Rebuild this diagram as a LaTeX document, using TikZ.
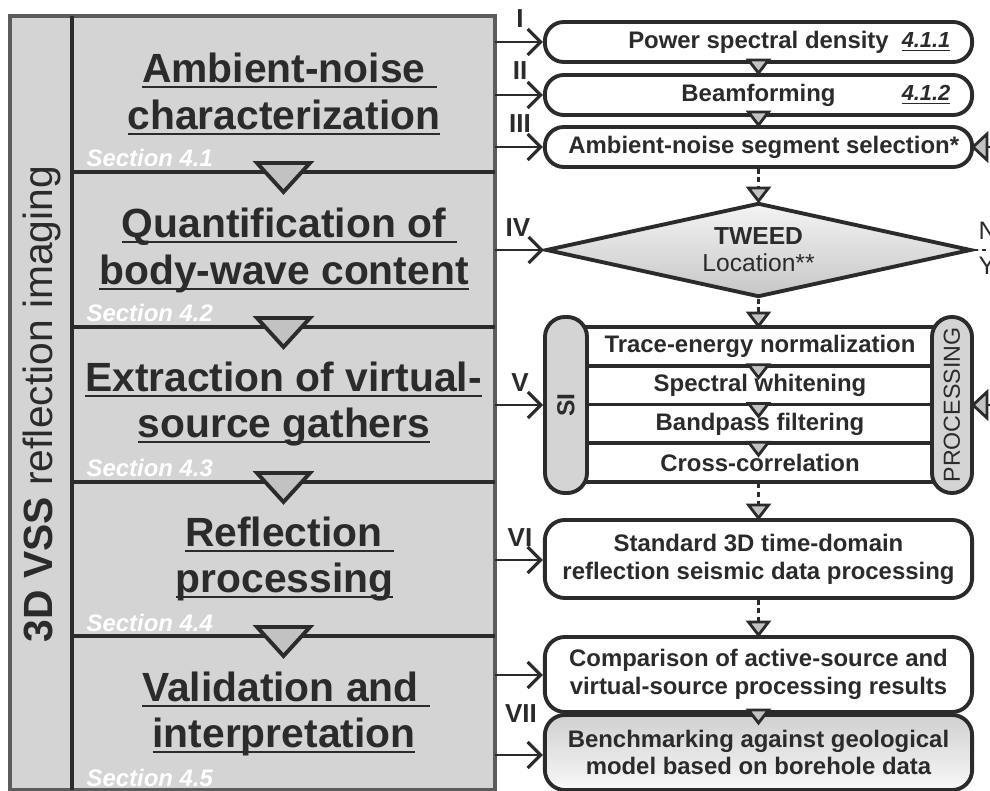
\documentclass[tikz,border=0pt]{standalone}
\usepackage{fontspec}
\setmainfont{Liberation Sans}
\usetikzlibrary{arrows.meta,shapes.geometric,calc,shadings}
\definecolor{dk}{HTML}{2B2B2B}
\definecolor{panelgray}{HTML}{D4D4D4}
\definecolor{pborder}{HTML}{5C5C5C}
\definecolor{trigray}{HTML}{C2C2C2}
\definecolor{dtop}{HTML}{F4F4F4}
\definecolor{dbot}{HTML}{C6C6C6}
\definecolor{btop}{HTML}{D0D0D0}
\definecolor{bbot}{HTML}{F8F8F8}
\newsavebox\ulbox
\newcommand\myul[1]{\sbox\ulbox{#1}\rlap{\rule[-0.13em]{\wd\ulbox}{0.055em}}\usebox\ulbox}
\begin{document}
\begin{tikzpicture}[x=0.01cm,y=-0.01cm,
  panelbox/.style={draw=pborder,fill=panelgray,line width=1.2pt,minimum width=48.5mm,minimum height=77.4mm,inner sep=0},
  sepline/.style={draw=dk,line width=1.1pt},
  ttl/.style={text=dk,font=\fontsize{11.6}{13.4}\selectfont\bfseries,inner sep=0,anchor=base},
  secl/.style={text=white,font=\fontsize{6.8}{8}\selectfont\bfseries\itshape,inner sep=0,anchor=base west},
  vtext/.style={text=dk,font=\fontsize{11.6}{13.4}\selectfont,rotate=90,inner sep=0},
  stepbox/.style={draw=dk,fill=white,line width=1.1pt,rounded corners=1.9mm,minimum width=42.7mm,inner sep=0,align=center,text=dk,font=\fontsize{6.8}{7.9}\selectfont\bfseries},
  rowbox/.style={draw=dk,fill=white,line width=1.1pt,minimum width=36mm,minimum height=3.875mm,inner sep=0,text=dk,font=\fontsize{6.8}{7.9}\selectfont\bfseries},
  pillbox/.style={draw=dk,fill=panelgray,line width=1.1pt,rounded corners=2mm,minimum height=17.6mm,inner sep=0},
  dmd/.style={diamond,aspect=4.52,draw=dk,line width=1.1pt,minimum width=42.5mm,minimum height=9.4mm,inner sep=0,align=center,text=dk,font=\fontsize{7}{7.7}\selectfont,top color=dtop,bottom color=dbot},
  lbl/.style={text=dk,font=\fontsize{7.4}{8}\selectfont\bfseries,inner sep=0,anchor=base},
  refl/.style={text=dk,font=\fontsize{6.2}{8}\selectfont\bfseries\itshape,inner sep=0,anchor=base east},
  yn/.style={text=dk,font=\fontsize{7.2}{8}\selectfont,inner sep=0,anchor=base west},
  arr/.style={draw=dk,line width=0.75pt,-{Straight Barb[length=1.3mm,width=2.6mm,line width=0.9pt]}},
  dconn/.style={draw=dk,line width=0.75pt,dash pattern=on 1.3pt off 1.1pt},
  trishape/.style={draw=dk,fill=trigray,line width=0.8pt,line join=miter},
  dtri/.pic={\path[trishape] (-10,-13) -- (10,-13) -- (0,0) -- cycle;},
  bigtri/.pic={\path[trishape,line width=1.1pt] (-26.5,-29) -- (26.5,-29) -- (0,0) -- cycle;},
  ltri/.pic={\draw[dk,line width=0.8pt] (14,0) -- (20,0); \path[trishape] (0,0) -- (14,-13) -- (14,13) -- cycle;}
]
\useasboundingbox (0,0) rectangle (990,791);

% ---------- left panel ----------
\node[panelbox] (panel) at (252.5,403) {};
\draw[sepline] (72,16) -- (72,790);
\foreach \s in {172,327,482,636} \draw[sepline] (72,\s) -- (495,\s);
\foreach \s in {172,327,482,636} \pic at (283.5,\s+20) {bigtri};

\node[vtext] (vt) at (42,404) {\textbf{3D VSS} reflection imaging};

\node[ttl] (t1a) at (289.5,83) {\myul{Ambient-noise\ }};
\node[ttl] (t1b) at (284,130) {\myul{characterization}};
\node[ttl] (t2a) at (289.5,238) {\myul{Quantification of\ }};
\node[ttl] (t2b) at (284,285) {\myul{body-wave content}};
\node[ttl] (t3a) at (283.5,392) {\myul{Extraction of virtual-}};
\node[ttl] (t3b) at (284,438) {\myul{source gathers}};
\node[ttl] (t4a) at (289.5,547) {\myul{Reflection\ }};
\node[ttl] (t4b) at (284.5,593) {\myul{processing}};
\node[ttl] (t5a) at (286,702) {\myul{Validation and\ }};
\node[ttl] (t5b) at (284,748) {\myul{interpretation}};

\node[secl] (s1) at (86,167) {Section 4.1};
\node[secl] (s2) at (86,322) {Section 4.2};
\node[secl] (s3) at (86,477) {Section 4.3};
\node[secl] (s4) at (86,632) {Section 4.4};
\node[secl] (s5) at (86,787) {Section 4.5};

% ---------- right flow ----------
\node[stepbox,minimum height=4mm] (b1) at (758.5,42) {Power spectral density};
\node[stepbox,minimum height=4mm] (b2) at (758.5,95) {Beamforming};
\node[stepbox,minimum height=4mm] (b3) at (758.5,147) {\hspace*{3pt}Ambient-noise segment selection*};
\node[refl] (r411) at (951,48) {\myul{4.1.1}};
\node[refl] (r412) at (951,101) {\myul{4.1.2}};
\pic at (b2.north) {dtri};
\pic at (b3.north) {dtri};

\node[dmd] (tw) at (758.5,250) {\textbf{TWEED}\\Location**};
\draw[dconn] (b3.south) -- (tw.north);
\pic at (tw.north) {dtri};
\coordinate (dr) at (992,250);
\draw[dconn] (tw.east) -- (dr);
\node[yn] (nN) at (978,240) {N};
\node[yn] (nY) at (978,275) {Y};

% processing block
\node[rowbox] (r1) at (760,346.4) {Trace-energy normalization};
\node[rowbox] (r2) at (760,385.1) {Spectral whitening};
\node[rowbox] (r3) at (760,423.9) {Bandpass filtering};
\node[rowbox] (r4) at (760,462.6) {Cross-correlation};
\node[pillbox,minimum width=4.2mm] (si) at (566,405) {};
\node[pillbox,minimum width=4.0mm] (pr) at (952,405) {};
\node[rotate=90,inner sep=0,text=dk,font=\fontsize{7}{8}\selectfont\bfseries] (sit) at (si.center) {SI};
\node[rotate=90,inner sep=0,text=dk,font=\fontsize{6.6}{8}\selectfont] (prt) at (pr.center) {PROCESSING};
\draw[dconn] (tw.south) -- (r1.north -| tw.south);
\pic at (758.5,326) {dtri};
\pic at ($(r1.south)+(-1.5,10)$) {dtri};
\pic at ($(r2.south)+(-1.5,10)$) {dtri};
\pic at ($(r3.south)+(-1.5,10)$) {dtri};
\pic at (973,147) {ltri};
\pic at (973,405) {ltri};

\node[stepbox,minimum height=7.8mm,rounded corners=2mm] (b6) at (758.5,559) {Standard 3D time-domain\\reflection seismic data processing};
\draw[dconn] (r4.south -| b6.north) -- (b6.north);
\pic at (b6.north) {dtri};

\node[stepbox,minimum height=7.5mm,rounded corners=2mm] (b7a) at (758.5,674.5) {Comparison of active-source and\\virtual-source processing results};
\node[stepbox,minimum height=7.5mm,rounded corners=2mm,top color=btop,bottom color=bbot] (b7b) at (758.5,752.5) {Benchmarking against geological\\model based on borehole data};
\draw[dconn] (b6.south) -- (b7a.north);
\pic at (b7a.north) {dtri};
\pic at (758.5,723) {dtri};

% ---------- arrows from panel ----------
\coordinate (o1) at (495,42);
\coordinate (o2) at (495,95);
\coordinate (o3) at (495,147);
\coordinate (o4) at (495,250);
\coordinate (o5) at (495,405);
\coordinate (o6) at (495,560);
\coordinate (o7) at (495,675);
\coordinate (o8) at (495,755);
\draw[arr] (o1) -- (o1 -| b1.west);
\draw[arr] (o2) -- (o2 -| b2.west);
\draw[arr] (o3) -- (o3 -| b3.west);
\draw[arr] (o4) -- (tw.west);
\draw[arr] (o5) -- (si.west);
\draw[arr] (o6) -- (o6 -| b6.west);
\draw[arr] (o7) -- (o7 -| b7a.west);
\draw[arr] (o8) -- (o8 -| b7b.west);

\node[lbl] (l1) at (520,28) {I};
\node[lbl] (l2) at (520,80) {II};
\node[lbl] (l3) at (520,133) {III};
\node[lbl] (l4) at (518,237) {IV};
\node[lbl] (l5) at (520,392) {V};
\node[lbl] (l6) at (520,547) {VI};
\node[lbl] (l7) at (521,723) {VII};
\end{tikzpicture}
\end{document}
